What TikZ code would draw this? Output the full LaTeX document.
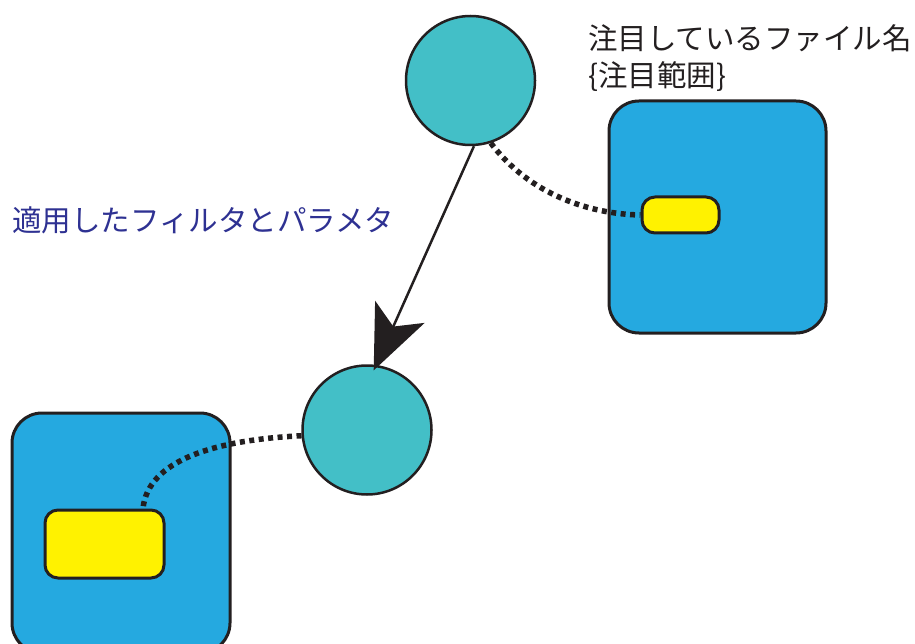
\documentclass[tikz,border=0pt]{standalone}
\usepackage{fontspec}
\newfontfamily\cjk{Noto Sans CJK JP}
\usetikzlibrary{arrows.meta}
\definecolor{tealc}{HTML}{43BFC7}
\definecolor{boxblue}{HTML}{25A9E0}
\definecolor{yel}{HTML}{FFF200}
\definecolor{outl}{HTML}{231F20}
\definecolor{labblue}{HTML}{2E3192}
\definecolor{txtgray}{HTML}{231F20}
\tikzset{
  circ/.style={circle, draw=outl, line width=2.5pt, fill=tealc, minimum size=129pt, inner sep=0pt},
  bigbox/.style={rectangle, rounded corners=30pt, draw=outl, line width=3pt, fill=boxblue, inner sep=0pt},
  smallbox/.style={rectangle, rounded corners=13pt, draw=outl, line width=3pt, fill=yel, inner sep=0pt},
  dotline/.style={draw=outl, line width=5.5pt, dash pattern=on 5pt off 4.5pt},
  mainarrow/.style={draw=outl, line width=2.5pt, shorten >=-6pt, -{Stealth[length=64pt, width=54pt, inset=16pt]}},
  lab/.style={font=\cjk\fontsize{29.5}{37}\selectfont, inner sep=0pt, align=left}
}
\begin{document}
\begin{tikzpicture}[x=1pt, y=-1pt]
\useasboundingbox (0,0) rectangle (915,644);
\clip (0,0) rectangle (915,644);
\node[bigbox, minimum width=217pt, minimum height=232pt] (rbox) at (717.5,217) {};
\node[smallbox, minimum width=77pt, minimum height=36pt] (ry) at (680.5,215) {};
\node[bigbox, minimum width=218pt, minimum height=240pt] (lbox) at (121,533) {};
\node[smallbox, minimum width=119pt, minimum height=68pt] (ly) at (104.5,544) {};
\node[circ] (c1) at (470.5,80.5) {};
\node[circ] (c2) at (367,430) {};
\coordinate (lyt) at ([xshift=38.5pt]ly.north);
\draw[mainarrow] (c1.-87) -- (c2.82);
\draw[dotline] (c1.-72) .. controls (530,195) and (590,214) .. (ry.west);
\draw[dotline] (c2.185) .. controls (215,440) and (148,460) .. (lyt);
\node[lab, text=txtgray, anchor=north west] (t1) at (588,24) {注目しているファイル名\\\{注目範囲\}};
\node[lab, text=labblue, anchor=west] (t2) at (12,220) {適用したフィルタとパラメタ};
\end{tikzpicture}
\end{document}
